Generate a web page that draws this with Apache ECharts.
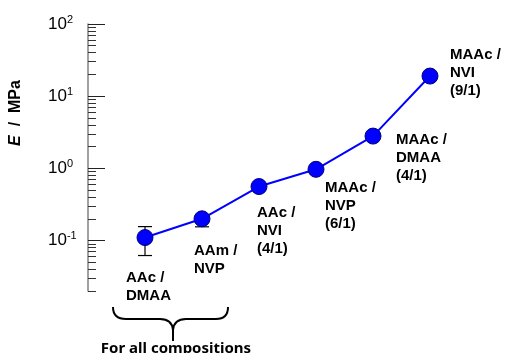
<!DOCTYPE html>
<html>
<head>
<meta charset="utf-8">
<script src="https://cdn.jsdelivr.net/npm/echarts@6/dist/echarts.min.js"></script>
<style>
  html, body { margin: 0; padding: 0; background: #fff; }
  #chart { width: 506px; height: 353px; }
</style>
</head>
<body>
<div id="chart"></div>
<script>
// Copolymer compositions and their elastic modulus E (MPa)
const compositions = [
  'AAc /\nDMAA',
  'AAm /\nNVP',
  'AAc /\nNVI\n(4/1)',
  'MAAc /\nNVP\n(6/1)',
  'MAAc /\nDMAA\n(4/1)',
  'MAAc /\nNVI\n(9/1)'
];
const modulus = [0.11, 0.20, 0.56, 0.97, 2.8, 19];
const errorLow = [0.062, 0.155, null, null, null, null];
const errorHigh = [0.156, 0.21, null, null, null, null];

// Log axis decoration
const majorTicks = [0.1, 1, 10, 100];
const minorTicks = [
  0.02, 0.03, 0.04, 0.05, 0.06, 0.07, 0.08, 0.09,
  0.2, 0.3, 0.4, 0.5, 0.6, 0.7, 0.8, 0.9,
  2, 3, 4, 5, 6, 7, 8, 9,
  20, 30, 40, 50, 60, 70, 80, 90
];
const exponents = ['-1', '0', '1', '2'];

// Where each composition label sits relative to its marker
const labelOffsets = [[-19, 31], [-8, 23], [-2, 17], [9, 10], [23, -5], [20, -30]];

const points = modulus.map((v, i) => ({
  value: [i, v],
  label: { offset: labelOffsets[i] }
}));
const errorData = modulus
  .map((v, i) => [i, errorLow[i], errorHigh[i]])
  .filter(d => d[1] != null);

const chart = echarts.init(document.getElementById('chart'), null, { renderer: 'canvas' });

const axisCommon = {
  type: 'log',
  logBase: 10,
  min: 0.02,
  max: 100,
  position: 'left',
  splitLine: { show: false },
  minorTick: { show: false }
};

// Curly brace under the first two compositions
const braceStyle = { fill: 'none', stroke: '#000', lineWidth: 2 };
const brace = [
  { type: 'bezierCurve', shape: { x1: 113, y1: 307, cpx1: 113, cpy1: 319, x2: 126, y2: 319 } },
  { type: 'line', shape: { x1: 126, y1: 319, x2: 160, y2: 319 } },
  { type: 'bezierCurve', shape: { x1: 160, y1: 319, cpx1: 172, cpy1: 319, x2: 173, y2: 330 } },
  { type: 'line', shape: { x1: 173, y1: 329, x2: 173, y2: 341 } },
  { type: 'bezierCurve', shape: { x1: 173, y1: 330, cpx1: 174, cpy1: 319, x2: 186, y2: 319 } },
  { type: 'line', shape: { x1: 186, y1: 319, x2: 216, y2: 319 } },
  { type: 'bezierCurve', shape: { x1: 216, y1: 319, cpx1: 228, cpy1: 319, x2: 228, y2: 307 } }
].map(el => Object.assign(el, { style: braceStyle }));

chart.setOption({
  animation: false,
  backgroundColor: '#ffffff',
  grid: { left: 87, right: 19, top: 24, bottom: 62, containLabel: false },
  xAxis: {
    type: 'value',
    min: -1,
    max: 6,
    show: false
  },
  yAxis: [
    Object.assign({}, axisCommon, {
      name: '{i|E}{b|  /  MPa}',
      nameLocation: 'middle',
      nameRotate: 90,
      nameGap: 64,
      nameTextStyle: {
        padding: [0, 0, 0, 89],
        rich: {
          i: { fontFamily: 'Liberation Sans', fontSize: 16, fontWeight: 'bold', fontStyle: 'italic', color: '#000' },
          b: { fontFamily: 'Liberation Sans', fontSize: 16, fontWeight: 'bold', color: '#000' }
        }
      },
      axisLine: { show: true, onZero: false, lineStyle: { color: '#808080', width: 1.5 } },
      axisTick: {
        show: true,
        inside: true,
        length: 17,
        customValues: majorTicks,
        lineStyle: { color: '#222', width: 1 }
      },
      axisLabel: {
        show: true,
        customValues: majorTicks,
        align: 'left',
        margin: 40,
        formatter: function (val) {
          const idx = majorTicks.findIndex(t => Math.abs(t - val) / t < 1e-6);
          return idx < 0 ? '' : '{n|10}{s|' + exponents[idx] + '}';
        },
        rich: {
          n: { fontFamily: 'Liberation Sans', fontSize: 17, color: '#000', lineHeight: 20 },
          s: { fontFamily: 'Liberation Sans', fontSize: 11, color: '#000', verticalAlign: 'top', lineHeight: 12 }
        }
      }
    }),
    Object.assign({}, axisCommon, {
      axisLine: { show: false, onZero: false },
      axisTick: {
        show: true,
        inside: true,
        length: 8,
        customValues: minorTicks,
        lineStyle: { color: '#333', width: 1 }
      },
      axisLabel: { show: false }
    })
  ],
  series: [
    {
      type: 'custom',
      name: 'error',
      yAxisIndex: 0,
      z: 2,
      data: errorData,
      renderItem: function (params, api) {
        const x = api.value(0);
        const lo = api.coord([x, api.value(1)]);
        const hi = api.coord([x, api.value(2)]);
        const cap = 7;
        const style = { stroke: '#000', lineWidth: 1.2 };
        return {
          type: 'group',
          children: [
            { type: 'line', shape: { x1: lo[0], y1: lo[1], x2: hi[0], y2: hi[1] }, style: style },
            { type: 'line', shape: { x1: lo[0] - cap, y1: lo[1], x2: lo[0] + cap, y2: lo[1] }, style: style },
            { type: 'line', shape: { x1: hi[0] - cap, y1: hi[1], x2: hi[0] + cap, y2: hi[1] }, style: style }
          ]
        };
      }
    },
    {
      type: 'line',
      name: 'E',
      yAxisIndex: 0,
      z: 3,
      data: points,
      symbol: 'circle',
      symbolSize: 16,
      lineStyle: { color: '#0000ff', width: 2 },
      itemStyle: { color: '#0000ff', borderColor: '#00007a', borderWidth: 1 },
      label: {
        show: true,
        position: 'inside',
        align: 'left',
        verticalAlign: 'top',
        fontFamily: 'Liberation Sans',
        fontWeight: 'bold',
        fontSize: 15,
        lineHeight: 18,
        color: '#000',
        formatter: p => compositions[p.dataIndex]
      },
      emphasis: { disabled: true }
    }
  ],
  graphic: brace.concat([
    {
      type: 'text',
      x: 176,
      y: 341,
      style: {
        text: 'For all compositions',
        fontFamily: 'Noto Sans',
        fontWeight: 'bold',
        fontSize: 15,
        fill: '#000',
        align: 'center',
        verticalAlign: 'top'
      }
    }
  ])
});
</script>
</body>
</html>
